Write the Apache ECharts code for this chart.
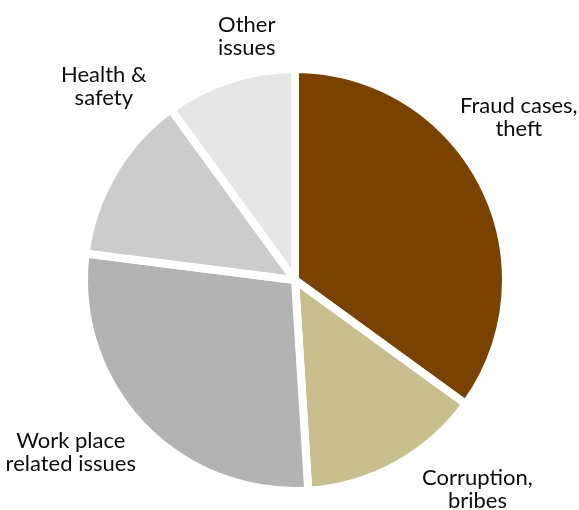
<!DOCTYPE html>
<html>
<head>
<meta charset="utf-8">
<script src="https://cdn.jsdelivr.net/npm/echarts@6/dist/echarts.min.js"></script>
<style>
html,body{margin:0;padding:0;background:#fff;}
#c{width:579px;height:510px;}
</style>
</head>
<body>
<div id="c"></div>
<script>
// Data
var categories = ['Fraud cases,\ntheft', 'Corruption,\nbribes', 'Work place\nrelated issues', 'Health &\nsafety', 'Other\nissues'];
var values = [35, 14, 28, 13, 10];
var colors = ['#7a4200', '#c9bf8e', '#b3b3b3', '#cccccc', '#e6e6e6'];

// Layout constants
var CX = 295, CY = 280, R = 211;
var LABEL_R = 250;
var labelNudge = [[1, -49], [62, -10], [-42, 1], [24, -66], [29, -6]];

var total = values.reduce(function (a, b) { return a + b; }, 0);
var midAngles = [];
(function () {
  var acc = 0;
  for (var i = 0; i < values.length; i++) {
    midAngles.push((acc + values[i] / 2) / total * 2 * Math.PI);
    acc += values[i];
  }
})();

var chart = echarts.init(document.getElementById('c'), null, {renderer: 'canvas'});
chart.setOption({
  animation: false,
  backgroundColor: '#ffffff',
  series: [{
    type: 'pie',
    center: [CX, CY],
    radius: [0, R],
    startAngle: 90,
    clockwise: true,
    avoidLabelOverlap: false,
    data: categories.map(function (c, i) {
      return {name: c, value: values[i], itemStyle: {color: colors[i]}};
    }),
    itemStyle: {borderColor: '#ffffff', borderWidth: 8, borderJoin: 'miter'},
    label: {
      show: true,
      position: 'outside',
      formatter: '{b}',
      fontFamily: 'Lato',
      fontSize: 22,
      lineHeight: 23,
      color: '#0d0d0d',
      align: 'center'
    },
    labelLine: {show: false},
    emphasis: {disabled: true},
    labelLayout: function (p) {
      var i = p.dataIndex;
      var a = midAngles[i];
      return {
        x: CX + LABEL_R * Math.sin(a) + labelNudge[i][0],
        y: CY - LABEL_R * Math.cos(a) + labelNudge[i][1],
        align: 'center',
        verticalAlign: 'middle'
      };
    }
  }]
});
</script>
</body>
</html>
